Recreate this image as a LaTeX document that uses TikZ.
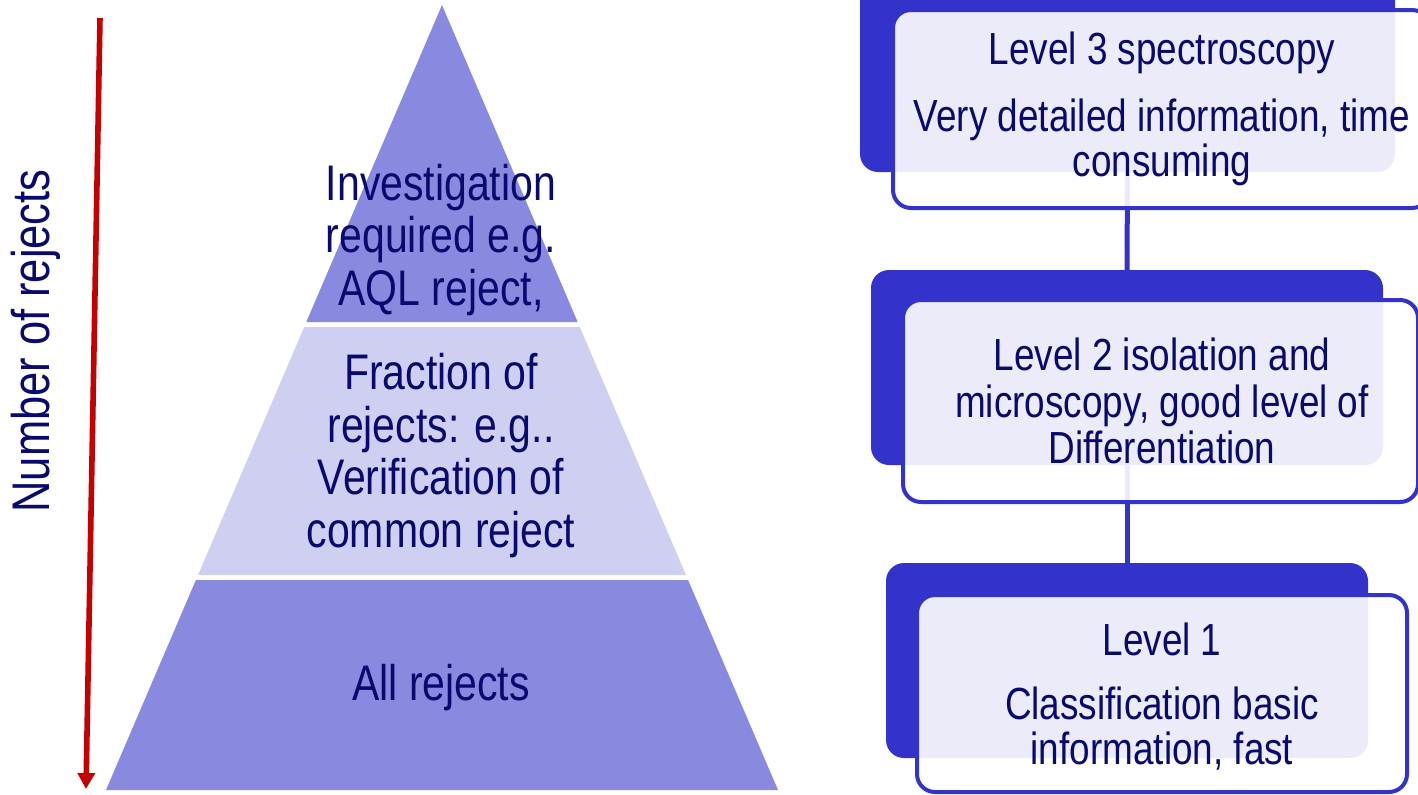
\documentclass[tikz,border=0pt]{standalone}
\usepackage{fontspec}
\setmainfont{Liberation Sans}[FakeStretch=0.82]
\usetikzlibrary{arrows.meta}
\definecolor{navy}{RGB}{10,10,110}
\definecolor{boxblue}{RGB}{51,51,204}
\definecolor{tierdark}{RGB}{137,137,224}
\definecolor{tierlight}{RGB}{207,207,242}
\definecolor{arrowred}{RGB}{196,0,0}
\tikzset{
  backbox/.style={rectangle, rounded corners=9pt, fill=boxblue, draw=none, inner sep=0pt, outer sep=0pt, minimum height=97.5pt},
  frontbox/.style={rectangle, rounded corners=9pt, fill=white, fill opacity=0.9, draw=boxblue, draw opacity=1, line width=2pt, inner sep=0pt, outer sep=0pt},
  boxtext/.style={text=navy, font=\fontsize{22.5pt}{22.5pt}\selectfont, align=center, inner sep=0pt},
  pyrtext/.style={text=navy, font=\fontsize{25pt}{26.3pt}\selectfont, align=center, inner sep=0pt},
  link/.style={draw=boxblue, line width=2.5pt},
}
\begin{document}
\begin{tikzpicture}[x=0.5pt,y=-0.5pt]
\useasboundingbox (0,0) rectangle (1418,794);
% pyramid
\fill[tierdark] (442,5) -- (306.3,322) -- (577.7,322) -- cycle;
\fill[tierlight] (304.2,327) -- (579.8,327) -- (686,575) -- (198,575) -- cycle;
\fill[tierdark] (195.9,580) -- (688.1,580) -- (778,790) -- (106,790) -- cycle;
\node[pyrtext] (t1) at (441,240) {Investigation\\required e.g.\\AQL reject,};
\node[pyrtext] (t2) at (441,455.5) {Fraction of\\rejects: e.g..\\Verification of\\common reject};
\node[pyrtext] (t3) at (441,688) {All rejects};
% red arrow
\coordinate (arrtop) at (100,18);
\coordinate (arrbot) at (86,789);
\draw[arrowred, line width=2.8pt, -{Triangle[width=8.5pt,length=8pt]}] (arrtop) -- (arrbot);
\node[text=navy, font=\fontsize{26.5pt}{26.5pt}\selectfont, rotate=90, inner sep=0pt] (nrej) at (36,341) {Number of rejects};
% back boxes
\node[backbox, minimum width=267.5pt] (b3) at (1127.5,74.5) {};
\node[backbox, minimum width=256pt] (b2) at (1127,367.5) {};
\node[backbox, minimum width=241pt] (b1) at (1127,660.5) {};
% connectors
\draw[link] (b3.south) -- (b2.north);
\draw[link] (b2.south) -- (b1.north);
% front boxes
\node[frontbox, minimum width=268.5pt, minimum height=99pt] (f3) at (1161.5,109) {};
\node[frontbox, minimum width=257.5pt, minimum height=101pt] (f2) at (1160.5,401) {};
\node[frontbox, minimum width=245pt, minimum height=98.5pt] (f1) at (1162,693.5) {};
% texts
\node[boxtext] (l3a) at (1162,53) {Level 3 spectroscopy};
\node[boxtext] (l3b) at (1162,142) {Very detailed information, time\\consuming};
\node[boxtext, font=\fontsize{22.5pt}{23.3pt}\selectfont] (l2) at (1162,401) {Level 2 isolation and\\microscopy, good level of\\Differentiation};
\node[boxtext] (l1a) at (1162,639) {Level 1};
\node[boxtext] (l1b) at (1162,729) {Classification basic\\information, fast};
\end{tikzpicture}
\end{document}
